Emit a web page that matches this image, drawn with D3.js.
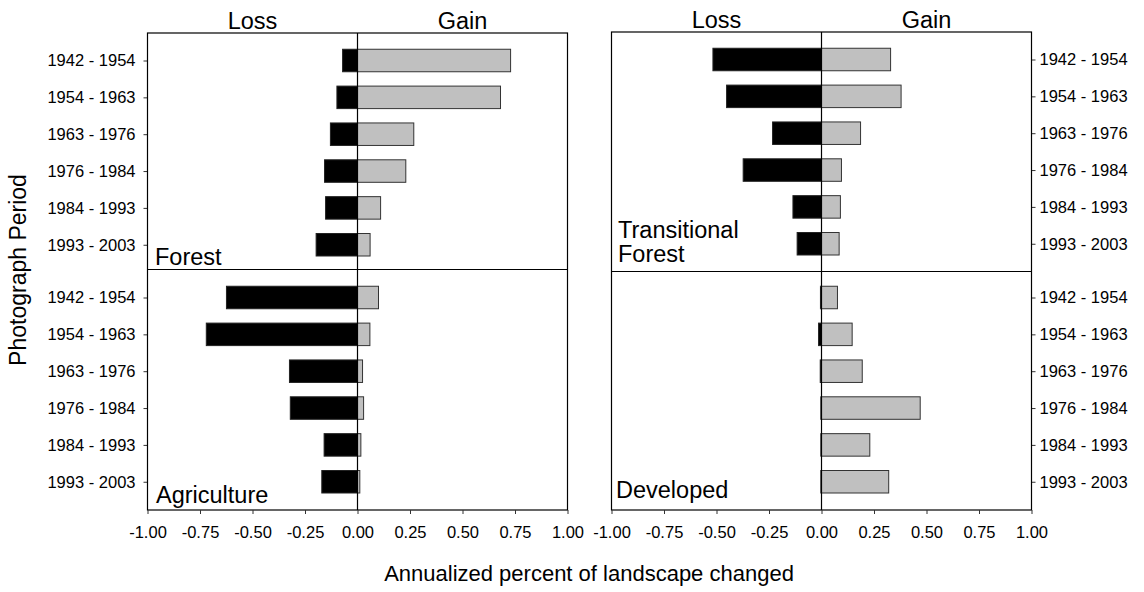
<!DOCTYPE html>
<html>
<head>
<meta charset="utf-8">
<script src="https://cdn.jsdelivr.net/npm/d3@7"></script>
<style>
  html, body { margin: 0; padding: 0; background: #fff; }
  svg { display: block; font-family: "Liberation Sans", Arial, sans-serif; }
</style>
</head>
<body>
<svg id="chart" width="1144" height="592"></svg>
<script>
// Photograph periods (rows, top to bottom)
const periods = ["1942 - 1954", "1954 - 1963", "1963 - 1976", "1976 - 1984", "1984 - 1993", "1993 - 2003"];

// Annualized percent of landscape changed, per land-cover class
const forestLoss = [-0.071, -0.098, -0.129, -0.157, -0.152, -0.197];
const forestGain = [0.729, 0.681, 0.268, 0.230, 0.110, 0.060];

const agricultureLoss = [-0.624, -0.720, -0.324, -0.320, -0.159, -0.170];
const agricultureGain = [0.100, 0.059, 0.024, 0.029, 0.016, 0.011];

const transitionalLoss = [-0.517, -0.452, -0.233, -0.373, -0.136, -0.116];
const transitionalGain = [0.329, 0.379, 0.186, 0.095, 0.090, 0.084];

const developedLoss = [-0.005, -0.014, -0.006, -0.003, -0.003, -0.003];
const developedGain = [0.076, 0.146, 0.194, 0.470, 0.230, 0.320];

const xTicks = [-1, -0.75, -0.5, -0.25, 0, 0.25, 0.5, 0.75, 1];
const headerLabels = [{ text: "Loss", at: -0.5 }, { text: "Gain", at: 0.5 }];

const svg = d3.select("#chart");
// plain hyphen for negative values
const fmt = d => d.toFixed(2);

const columns = [
  {
    x0: 147.5, x1: 567.5, top: 33, mid: 269.5, bottom: 510, side: "left",
    upper: { name: ["Forest"], loss: forestLoss, gain: forestGain, lx: 155, ly: 265 },
    lower: { name: ["Agriculture"], loss: agricultureLoss, gain: agricultureGain, lx: 156, ly: 503 },
    headerY: 29
  },
  {
    x0: 611.5, x1: 1031.5, top: 32, mid: 271.5, bottom: 510, side: "right",
    upper: { name: ["Transitional", "Forest"], loss: transitionalLoss, gain: transitionalGain, lx: 618, ly: 262 },
    lower: { name: ["Developed"], loss: developedLoss, gain: developedGain, lx: 616, ly: 498 },
    headerY: 27.5
  }
];

const barH = 22.5;

columns.forEach(col => {
  const x = d3.scaleLinear().domain([-1, 1]).range([col.x0, col.x1]);
  const g = svg.append("g");

  const halves = [
    { data: col.upper, y: d3.scalePoint().domain(periods).range([col.top + 27.5, col.top + 211.75]) },
    { data: col.lower, y: d3.scalePoint().domain(periods).range([col.bottom - 212.5, col.bottom - 28.25]) }
  ];

  halves.forEach(h => {
    const rows = periods.map((p, i) => ({ p, loss: h.data.loss[i], gain: h.data.gain[i] }));

    g.selectAll(null).data(rows).enter().append("rect")
      .attr("x", d => x(d.loss))
      .attr("y", d => h.y(d.p) - barH / 2)
      .attr("width", d => x(0) - x(d.loss))
      .attr("height", barH)
      .attr("fill", "#000")
      .attr("stroke", "#222")
      .attr("stroke-width", 1);

    g.selectAll(null).data(rows).enter().append("rect")
      .attr("x", x(0))
      .attr("y", d => h.y(d.p) - barH / 2)
      .attr("width", d => x(d.gain) - x(0))
      .attr("height", barH)
      .attr("fill", "#c0c0c0")
      .attr("stroke", "#333")
      .attr("stroke-width", 1);

    // period axis on the outer side of the column
    const axis = col.side === "left"
      ? d3.axisLeft(h.y).tickSize(4).tickPadding(8)
      : d3.axisRight(h.y).tickSize(4).tickPadding(4);
    const ag = g.append("g")
      .attr("transform", `translate(${col.side === "left" ? col.x0 : col.x1},0)`)
      .call(axis);
    ag.select(".domain").remove();
    ag.selectAll("line").attr("stroke", "#333");
    ag.selectAll("text").attr("font-size", 16.5).attr("fill", "#000")
      .attr("font-family", "'Liberation Sans', Arial, sans-serif");

    // class label
    const t = g.append("text")
      .attr("x", h.data.lx)
      .attr("y", h.data.ly - (h.data.name.length - 1) * 24)
      .attr("font-size", 23.5)
      .attr("fill", "#000");
    h.data.name.forEach((line, i) => {
      t.append("tspan").attr("x", h.data.lx).attr("dy", i === 0 ? 0 : 24).text(line);
    });
  });

  // zero line
  g.append("line")
    .attr("x1", x(0)).attr("x2", x(0))
    .attr("y1", col.top).attr("y2", col.bottom)
    .attr("stroke", "#000").attr("stroke-width", 1.2);

  // divider between the two classes
  g.append("line")
    .attr("x1", col.x0).attr("x2", col.x1)
    .attr("y1", col.mid).attr("y2", col.mid)
    .attr("stroke", "#000").attr("stroke-width", 1.2);

  // frame
  g.append("rect")
    .attr("x", col.x0).attr("y", col.top)
    .attr("width", col.x1 - col.x0).attr("height", col.bottom - col.top)
    .attr("fill", "none").attr("stroke", "#000").attr("stroke-width", 1.2);

  // value axis
  const xa = g.append("g")
    .attr("transform", `translate(0,${col.bottom})`)
    .call(d3.axisBottom(x).tickValues(xTicks).tickSize(4).tickPadding(12).tickFormat(fmt));
  xa.select(".domain").remove();
  xa.selectAll("line").attr("stroke", "#333");
  xa.selectAll("text").attr("font-size", 16.5).attr("fill", "#000")
    .attr("font-family", "'Liberation Sans', Arial, sans-serif");

  // Loss / Gain headers
  g.selectAll(null).data(headerLabels).enter().append("text")
    .attr("x", d => x(d.at))
    .attr("y", col.headerY)
    .attr("text-anchor", "middle")
    .attr("font-size", 23.5)
    .attr("fill", "#000")
    .text(d => d.text);
});

// axis titles
svg.append("text")
  .attr("x", 589).attr("y", 581)
  .attr("text-anchor", "middle")
  .attr("font-size", 22)
  .attr("fill", "#000")
  .text("Annualized percent of landscape changed");

svg.append("text")
  .attr("transform", "translate(26,270) rotate(-90)")
  .attr("text-anchor", "middle")
  .attr("font-size", 23)
  .attr("fill", "#000")
  .text("Photograph Period");
</script>
</body>
</html>
